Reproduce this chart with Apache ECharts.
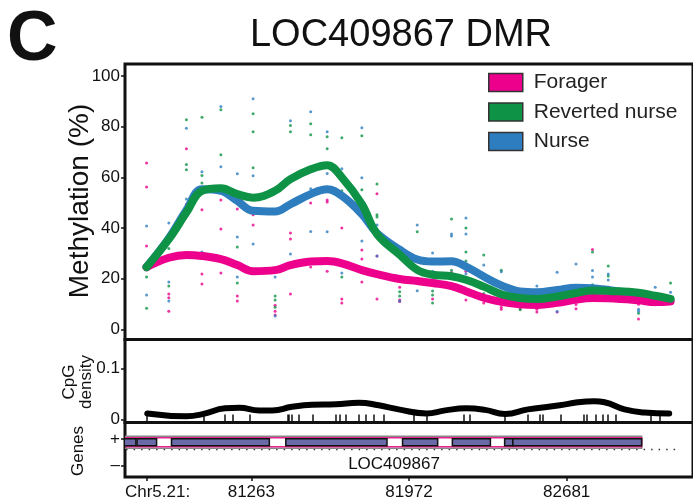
<!DOCTYPE html>
<html>
<head>
<meta charset="utf-8">
<script src="https://cdn.jsdelivr.net/npm/echarts@6/dist/echarts.min.js"></script>
<style>
html, body { margin: 0; padding: 0; background: #fff; }
#chart { width: 693px; height: 504px; }
</style>
</head>
<body>
<div id="chart"></div>
<script>
// CpG sites (bp on Chr5.21) where methylation was measured
var sitePos = [80792, 80892, 80971, 81041, 81126, 81200, 81271, 81370, 81439, 81530,
               81604, 81670, 81760, 81828, 81930, 82009, 82078, 82163, 82228, 82308,
               82387, 82472, 82547, 82638, 82723, 82797, 82868, 83004, 83079, 83148];

// smoothed methylation (%)
var foragerLine  = [24.6, 28.3, 29.4, 29, 27.7, 25.4, 23, 23.4, 25.4, 26.8, 27, 26.1, 23.4, 21.8, 19.9,
                    19.1, 18.3, 17.1, 15.1, 12.5, 10.9, 9.9, 9.7, 10.5, 11.8, 12.4, 12.3, 11.5, 10.8, 11];
var revertedLine = [24.6, 35.6, 46.1, 54.7, 55.7, 53.4, 52, 54.7, 59.3, 63.2, 64.8, 60, 49.4, 37.6, 29.5,
                    23.5, 21.6, 21, 19.6, 16.9, 13.9, 12.4, 12, 13, 14.4, 15.4, 15.2, 14.5, 13.3, 12.1];
var nurseLine    = [24.6, 36, 47, 55.3, 54.7, 50.7, 46.8, 46.5, 49.4, 53.4, 55.3, 52.7, 45.5, 38, 31.5,
                    27.6, 26.8, 26.9, 24.8, 20.9, 17.4, 15, 14.7, 15.6, 16.5, 16.3, 15.6, 13.8, 12.5, 11.5];

// individual samples, one list per CpG site
var foragerPts = [[65.7, 56.2, 32.9], [14, 12.5, 7.2], [71.3, 49.4], [47.2, 21.9, 17.9], [51.1, 39.6, 22.3],
                  [47.5, 13.2, 11.2], [45.2, 41.2], [9.6, 7.2, 5.7], [38.1, 35.7, 14], [49.9, 24.6],
                  [51.1, 50.3, 23], [40, 12, 10.4], [31.3, 27.8, 18.7], [53.5, 29, 12], [16.7, 11.6, 11],
                  [], [19.5, 12], [22.5], [23, 11.6], [10.4],
                  [8.8, 8], [8.3], [8, 6.9], [13.7, 6.9], [9.9, 8.2],
                  [31.5], [16.7], [10, 4.1], [9.8], []];
var revertedPts = [[20.7, 8.4], [31.9, 17.1], [82.7, 65.1, 63], [83.7, 60.7, 57.8], [86.7, 68.9],
                   [32.5, 18.3], [85.1, 78, 63.8], [13.2, 11.6, 8.8], [80.4, 78], [81.1, 76.8],
                   [76, 71.3], [75.6, 54.7, 20.7], [76.4, 55.1], [57.4, 45.2, 44.4], [14.9, 13.2],
                   [38.5], [15.2, 13.6, 10.4], [43.6, 23.4], [40, 30.6, 27], [29.4, 14.2],
                   [23.4], [7.8], [], [], [],
                   [30.6, 17.6], [25, 21.1, 16.7], [6.4], [], [18.3, 13]];
var nursePts = [[40.8, 13.6], [42, 18.7, 11.2], [79.4, 51.5], [62.2, 30.6], [87.9, 64.2, 28.6],
                [61.4, 36.5, 20.7], [91, 60.6, 33.7], [20.7, 5.3], [82.3, 29.8], [85.9, 55.5, 38.6],
                [78, 61.5, 38.5], [63.4, 22.3], [79.6, 59.8, 34.9], [41.2, 29], [11.2],
                [41.2, 28.6, 15.3], [30.2, 23], [37.7, 36.9], [44, 37.7, 22], [25.4],
                [22.8], [], [17.1, 15], [22.6, 7.1], [25.8],
                [23.3, 20.7], [21.9, 19.5], [8, 7.2], [16.7], [14.7]];

// CpG density
var densPos = [80795, 80971, 81048, 81145, 81209, 81299, 81357, 81446, 81536, 81643, 81746, 81836, 81925,
               82050, 82135, 82229, 82314, 82404, 82507, 82650, 82730, 82806, 82851, 82941, 83030, 83142];
var densVal = [0.012, 0.0066, 0.011, 0.022, 0.023, 0.018, 0.018, 0.025, 0.029, 0.030, 0.033, 0.028, 0.020,
               0.012, 0.018, 0.022, 0.019, 0.011, 0.020, 0.028, 0.034, 0.036, 0.034, 0.020, 0.014, 0.012];
var cpgSites = [80795, 81048, 81145, 81179, 81254, 81425, 81433, 81443, 81478, 81537, 81642, 81661, 81687,
                81746, 81776, 81813, 81858, 81992, 82052, 82216, 82246, 82402, 82507, 82562, 82574, 82653,
                82760, 82772, 82812, 82842, 82864, 82902, 83058, 83100];

// gene model LOC409867 (+ strand)
var geneSpan  = [80600, 83018];
var exonStart = [80600, 80749, 80904, 81418, 81943, 82167, 82402, 82439];
var exonEnd   = [80744, 80837, 81344, 81873, 82101, 82338, 82439, 83018];
var strandDots = [80700, 83191];

var xTicks = [80792, 81263, 81972, 82681];
var seriesNames = ['Forager', 'Reverted nurse', 'Nurse'];

var FONT = 'Liberation Sans, Arial, Helvetica, sans-serif';
var PINK = '#ec008c', GREEN = '#0e9346', BLUE = '#2e7ebf';
var XMIN = 80695, XMAX = 83249;

function pairs(xs, ys) {
  return xs.map(function (x, i) { return [x, ys[i]]; });
}
function dots(cols) {
  var out = [];
  cols.forEach(function (col, i) {
    col.forEach(function (v) { out.push([sitePos[i], v]); });
  });
  return out;
}

var geneRects = [[geneSpan[0], geneSpan[1], 0], [geneSpan[0], geneSpan[1], 1]];
exonStart.forEach(function (s, i) { geneRects.push([s, exonEnd[i], 2]); });

function renderGene(params, api) {
  var kind = api.value(2);
  var a = api.coord([api.value(0), 0.75]);
  var b = api.coord([api.value(1), 0.75]);
  var h = [12, 9, 7][kind];
  var style;
  if (kind === 0) style = { fill: 'none', stroke: '#888', lineWidth: 1.5 };
  else if (kind === 1) style = { fill: '#fff', stroke: '#e8238f', lineWidth: 1.5 };
  else style = { fill: '#6a6aa8', stroke: '#111', lineWidth: 1.5 };
  return {
    type: 'rect',
    shape: { x: a[0], y: a[1] - h / 2, width: b[0] - a[0], height: h },
    style: style
  };
}

var chart = echarts.init(document.getElementById('chart'));

var gridBase = { left: 125, right: -3, show: true, borderColor: '#111', borderWidth: 3, backgroundColor: 'transparent' };
function grid(top, height) {
  return Object.assign({}, gridBase, { top: top, height: height });
}
function xAxisFor(idx) {
  return {
    type: 'value', gridIndex: idx, min: XMIN, max: XMAX,
    splitLine: { show: false }, axisLine: { show: false, onZero: false },
    axisTick: { show: false }, axisLabel: { show: false }
  };
}

var xs = [xAxisFor(0), xAxisFor(1), xAxisFor(2)];
xs[1].axisTick = { show: true, inside: true, length: 8, customValues: cpgSites, lineStyle: { color: '#111', width: 1.5 } };
xs[2].axisTick = { show: true, length: 4, customValues: xTicks, lineStyle: { color: '#111', width: 1.5 } };
xs[2].axisLabel = {
  show: true, customValues: xTicks, margin: 7, fontSize: 17, color: '#111', fontFamily: FONT,
  formatter: function (v) { return v === xTicks[0] ? '{c|Chr5.21:}' : String(v); },
  rich: { c: { fontSize: 17, fontFamily: FONT, color: '#111', padding: [0, 0, 0, 22] } }
};

var yLabelStyle = { fontSize: 17, color: '#111', fontFamily: FONT, margin: 5 };

var option = {
  animation: false,
  backgroundColor: '#fff',
  grid: [grid(64, 275.5), grid(339.5, 83), grid(422.5, 54.5)],
  xAxis: xs,
  yAxis: [
    {
      type: 'value', gridIndex: 0, min: -3.95, max: 104.7,
      splitLine: { show: false }, axisLine: { show: false },
      axisTick: { show: true, length: 4, customValues: [0, 20, 40, 60, 80, 100], lineStyle: { color: '#111', width: 1.5 } },
      axisLabel: Object.assign({ customValues: [0, 20, 40, 60, 80, 100] }, yLabelStyle)
    },
    {
      type: 'value', gridIndex: 1, min: -0.0059, max: 0.1578,
      splitLine: { show: false }, axisLine: { show: false },
      axisTick: { show: true, length: 4, customValues: [0, 0.1], lineStyle: { color: '#111', width: 1.5 } },
      axisLabel: Object.assign({ customValues: [0, 0.1] }, yLabelStyle)
    },
    {
      type: 'value', gridIndex: 2, min: -1.85, max: 2.23,
      splitLine: { show: false }, axisLine: { show: false },
      axisTick: { show: true, length: 4, customValues: [-1, 1], lineStyle: { color: '#111', width: 1.5 } },
      axisLabel: Object.assign({ customValues: [-1, 1], formatter: function (v) { return v > 0 ? '+' : '\u2013'; } }, yLabelStyle)
    }
  ],
  legend: {
    data: seriesNames,
    orient: 'vertical', left: 488, top: 72, padding: 0,
    icon: 'rect', itemWidth: 34, itemHeight: 18, itemGap: 8.5,
    itemStyle: { borderColor: '#333', borderWidth: 1.5 },
    textStyle: { fontSize: 21, color: '#222', fontFamily: FONT, padding: [0, 0, 0, 6] },
    selectedMode: false
  },
  graphic: [
    { type: 'text', left: 7, top: 6, style: { text: 'C', font: 'bold 70px ' + FONT, fill: '#111' } },
    { type: 'text', x: 401, y: 36, style: { text: 'LOC409867 DMR', font: '38px ' + FONT, fill: '#111', align: 'center', verticalAlign: 'middle' } },
    { type: 'text', x: 80, y: 201, rotation: Math.PI / 2, style: { text: 'Methylation (%)', font: '28px ' + FONT, fill: '#111', align: 'center', verticalAlign: 'middle' } },
    { type: 'text', x: 78, y: 382, rotation: Math.PI / 2, style: { text: 'CpG\ndensity', font: '17px ' + FONT, lineHeight: 17, fill: '#111', align: 'center', verticalAlign: 'middle' } },
    { type: 'text', x: 78, y: 451, rotation: Math.PI / 2, style: { text: 'Genes', font: '17px ' + FONT, fill: '#111', align: 'center', verticalAlign: 'middle' } },
    { type: 'text', x: 394, y: 464, style: { text: 'LOC409867', font: '17px ' + FONT, fill: '#111', align: 'center', verticalAlign: 'middle' } }
  ],
  series: [
    { name: 'Forager pts', type: 'scatter', xAxisIndex: 0, yAxisIndex: 0, symbolSize: 3, z: 1, itemStyle: { color: PINK }, data: dots(foragerPts) },
    { name: 'Reverted pts', type: 'scatter', xAxisIndex: 0, yAxisIndex: 0, symbolSize: 3, z: 1, itemStyle: { color: GREEN }, data: dots(revertedPts) },
    { name: 'Nurse pts', type: 'scatter', xAxisIndex: 0, yAxisIndex: 0, symbolSize: 3, z: 1, itemStyle: { color: BLUE }, data: dots(nursePts) },
    {
      name: 'Nurse', type: 'line', xAxisIndex: 0, yAxisIndex: 0, smooth: 0.4, showSymbol: false, z: 3,
      itemStyle: { color: BLUE }, lineStyle: { color: BLUE, width: 8, cap: 'round', join: 'round' },
      data: pairs(sitePos, nurseLine)
    },
    {
      name: 'Forager', type: 'line', xAxisIndex: 0, yAxisIndex: 0, smooth: 0.4, showSymbol: false, z: 4,
      itemStyle: { color: PINK }, lineStyle: { color: PINK, width: 8, cap: 'round', join: 'round' },
      data: pairs(sitePos, foragerLine)
    },
    {
      name: 'Reverted nurse', type: 'line', xAxisIndex: 0, yAxisIndex: 0, smooth: 0.4, showSymbol: false, z: 5,
      itemStyle: { color: GREEN }, lineStyle: { color: GREEN, width: 8, cap: 'round', join: 'round' },
      data: pairs(sitePos, revertedLine)
    },
    {
      name: 'CpG density', type: 'line', xAxisIndex: 1, yAxisIndex: 1, smooth: 0.5, showSymbol: false,
      lineStyle: { color: '#000', width: 6, cap: 'round', join: 'round' },
      data: pairs(densPos, densVal)
    },
    {
      name: 'strand', type: 'line', xAxisIndex: 2, yAxisIndex: 2, showSymbol: false, z: 1,
      lineStyle: { color: '#333', width: 1.5, type: [1.5, 6] },
      data: [[strandDots[0], 0.2], [strandDots[1], 0.2]]
    },
    {
      name: 'gene', type: 'custom', xAxisIndex: 2, yAxisIndex: 2, clip: true, z: 2,
      renderItem: renderGene, data: geneRects
    }
  ]
};
chart.setOption(option);
</script>
</body>
</html>
